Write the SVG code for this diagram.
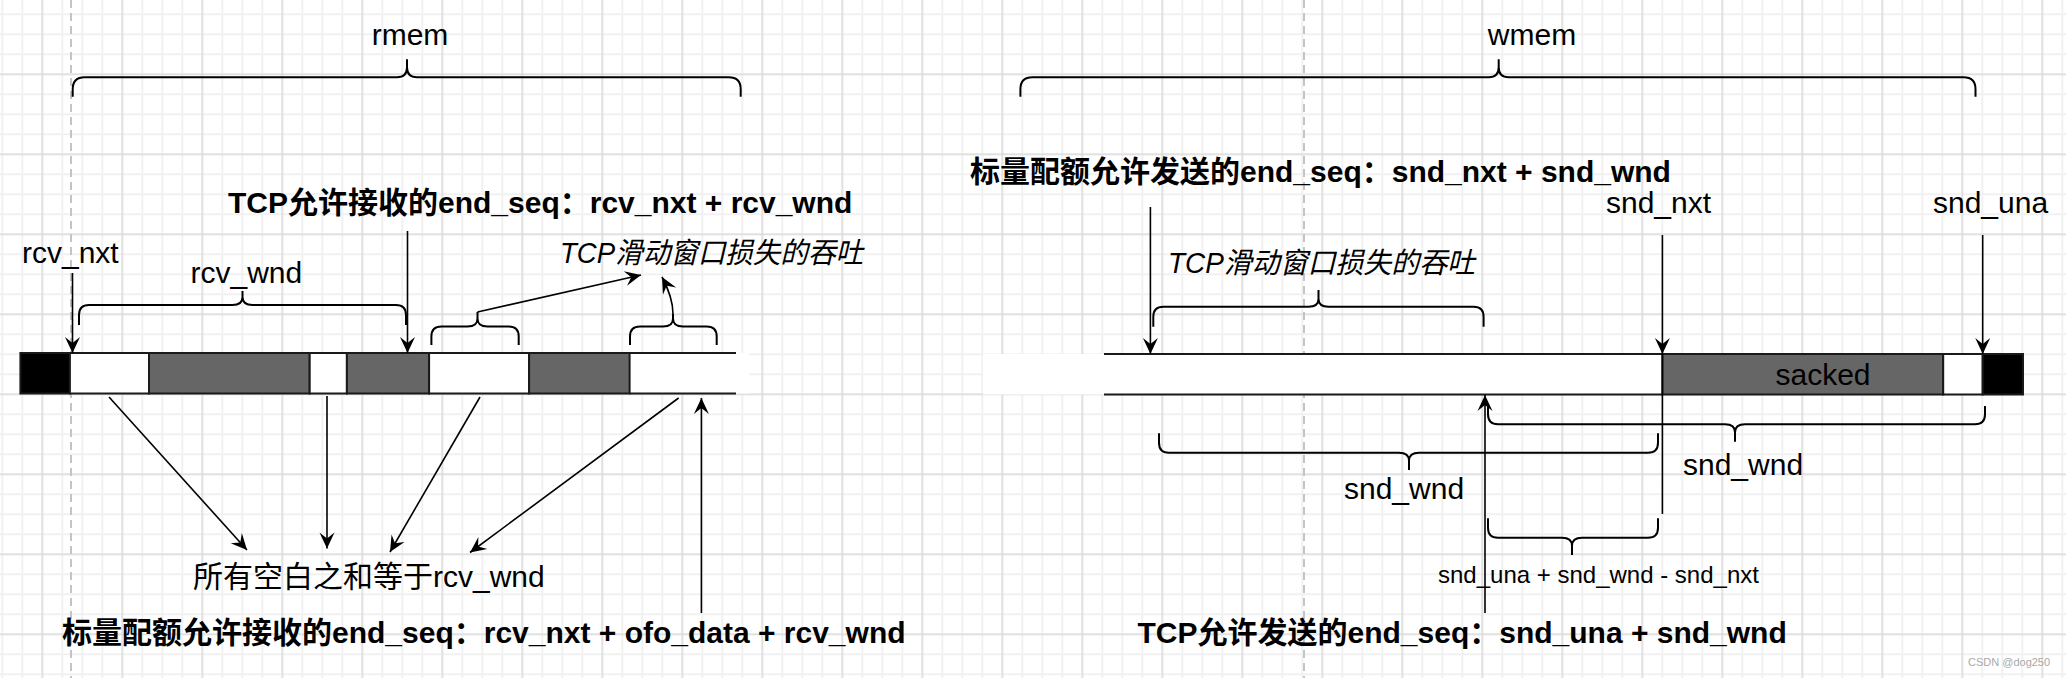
<svg xmlns="http://www.w3.org/2000/svg" width="2066" height="678" viewBox="0 0 2066 678">
<defs>
<pattern id="gMinor" patternUnits="userSpaceOnUse" x="-7.7" y="4.3" width="20" height="20"><path d="M10,0V20M0,10H20" stroke="#f1f1f1" stroke-width="2" fill="none"/></pattern>
<pattern id="gMajor" patternUnits="userSpaceOnUse" x="2.3" y="34.3" width="80" height="80"><path d="M40,0V80M0,40H80" stroke="#d2d2d2" stroke-width="1" fill="none"/></pattern>
<marker id="ah" markerUnits="userSpaceOnUse" markerWidth="18" markerHeight="18" refX="17" refY="9" orient="auto" overflow="visible"><path d="M17,9L1,1.5L7,9L1,16.5Z" fill="#000"/></marker>
<style>
text{font-family:"Liberation Sans","Noto Sans CJK SC",sans-serif;fill:#000}
.lbl{font-size:30px}
.bold{font-size:30px;font-weight:bold}
.ital{font-size:29px;font-style:italic}
.small{font-size:24px}
.brace{fill:none;stroke:#000;stroke-width:2}
.arr{fill:none;stroke:#000;stroke-width:1.6;marker-end:url(#ah)}
.ln{fill:none;stroke:#000;stroke-width:1.6}
.cell{stroke:#1a1a1a;stroke-width:2}
.w{fill:#fff}
.g{fill:#666}
.k{fill:#000}
.edge{stroke:#1a1a1a;stroke-width:2;fill:none}
.dash{stroke:#c4c4c4;stroke-width:2;stroke-dasharray:8 5;fill:none}
</style>
</defs>
<rect width="2066" height="678" fill="#fff"/>
<rect width="2066" height="678" fill="url(#gMinor)"/>
<rect width="2066" height="678" fill="url(#gMajor)"/>
<path class="dash" d="M71,0V678M1304,0V678"/>

<g id="rmem">
<text class="lbl" x="410" y="45" text-anchor="middle">rmem</text>
<path class="brace" d="M72.7,96.7V89.3Q72.7,77.3 84.7,77.3H397Q407,77.3 407,67.3V59.3M407,67.3Q407,77.3 417,77.3H728.7Q740.7,77.3 740.7,89.3V96.7"/>
</g>
<g id="wmem">
<text class="lbl" x="1532" y="45" text-anchor="middle">wmem</text>
<path class="brace" d="M1020.4,96.7V89.3Q1020.4,77.3 1032.4,77.3H1488.7Q1498.7,77.3 1498.7,67.3V59.3M1498.7,67.3Q1498.7,77.3 1508.7,77.3H1963.5Q1975.5,77.3 1975.5,89.3V96.7"/>
</g>

<g id="rcv-end-seq-label"><text class="bold" x="228" y="213">TCP允许接收的end_seq：rcv_nxt + rcv_wnd</text></g>
<g id="rcv-nxt-label"><text class="lbl" x="22" y="263">rcv_nxt</text></g>
<g id="rcv-wnd">
<text class="lbl" x="190.5" y="283">rcv_wnd</text>
<path class="brace" d="M79,325V315Q79,305 89,305H232.5Q242.5,305 242.5,297V291M242.5,297Q242.5,305 252.5,305H396Q406,305 406,315V325"/>
</g>
<g id="rcv-loss-label"><text class="ital" x="560" y="263" textLength="303" lengthAdjust="spacingAndGlyphs">TCP滑动窗口损失的吞吐</text></g>
<g id="rcv-gap-brace-1"><path class="brace" d="M431.4,345V336.5Q431.4,326.5 441.4,326.5H467.5Q477.5,326.5 477.5,318.5V312M477.5,318.5Q477.5,326.5 487.5,326.5H508.7Q518.7,326.5 518.7,336.5V345"/></g>
<g id="rcv-gap-brace-2"><path class="brace" d="M630,345V336.5Q630,326.5 640,326.5H663Q673,326.5 673,318.5V314M673,318.5Q673,326.5 683,326.5H706.7Q716.7,326.5 716.7,336.5V345"/></g>

<g id="rcv-buffer">
<rect class="w" x="629" y="353" width="120" height="40.5"/>
<path class="edge" d="M629.6,353H736M629.6,393.5H736"/>
<rect class="cell k" x="20.4" y="353" width="49.5" height="40.5"/>
<rect class="cell w" x="69.9" y="353" width="79.1" height="40.5"/>
<rect class="cell g" x="149" y="353" width="160.7" height="40.5"/>
<rect class="cell w" x="309.7" y="353" width="37.2" height="40.5"/>
<rect class="cell g" x="346.9" y="353" width="82.2" height="40.5"/>
<rect class="cell w" x="429.1" y="353" width="100" height="40.5"/>
<rect class="cell g" x="529.1" y="353" width="100.5" height="40.5"/>
</g>

<g id="rcv-sum-label"><text class="lbl" x="193" y="587">所有空白之和等于rcv_wnd</text></g>
<g id="rcv-quota-label"><text class="bold" x="62" y="643">标量配额允许接收的end_seq：rcv_nxt + ofo_data + rcv_wnd</text></g>

<g id="snd-quota-label"><text class="bold" x="970" y="182">标量配额允许发送的end_seq：snd_nxt + snd_wnd</text></g>
<g id="snd-nxt-label"><text class="lbl" x="1606" y="213">snd_nxt</text></g>
<g id="snd-una-label"><text class="lbl" x="1933" y="213">snd_una</text></g>
<g id="snd-loss">
<text class="ital" x="1168" y="273" textLength="307" lengthAdjust="spacingAndGlyphs">TCP滑动窗口损失的吞吐</text>
<path class="brace" d="M1153.3,326.7V316.7Q1153.3,306.7 1163.3,306.7H1308.5Q1318.5,306.7 1318.5,298.7V290M1318.5,298.7Q1318.5,306.7 1328.5,306.7H1473.6Q1483.6,306.7 1483.6,316.7V326.7"/>
</g>

<g id="snd-buffer">
<rect class="w" x="983" y="354" width="680" height="40.5"/>
<path class="edge" d="M1104,354H1662.4M1104,394.5H1662.4"/>
<rect class="cell g" x="1662.4" y="354" width="280.8" height="40.5"/>
<rect class="cell w" x="1943.2" y="354" width="39.5" height="40.5"/>
<rect class="cell k" x="1982.7" y="354" width="40.3" height="40.5"/>
<text class="lbl" x="1823" y="385" text-anchor="middle">sacked</text>
</g>

<g id="snd-wnd-right">
<path class="brace" d="M1488,406V414.3Q1488,424.3 1498,424.3H1725Q1735,424.3 1735,432.3V441.7M1735,432.3Q1735,424.3 1745,424.3H1975Q1985,424.3 1985,414.3V406"/>
<text class="lbl" x="1683" y="475">snd_wnd</text>
</g>
<g id="snd-wnd-left">
<path class="brace" d="M1159,433.3V442.7Q1159,452.7 1169,452.7H1399Q1409,452.7 1409,460.7V470M1409,460.7Q1409,452.7 1419,452.7H1648Q1658,452.7 1658,442.7V433.3"/>
<text class="lbl" x="1344" y="499">snd_wnd</text>
</g>
<g id="snd-diff">
<path class="brace" d="M1488,518.3V527.7Q1488,537.7 1498,537.7H1562Q1572,537.7 1572,545.7V555M1572,545.7Q1572,537.7 1582,537.7H1648Q1658,537.7 1658,527.7V518.3"/>
<text class="small" x="1438" y="583">snd_una + snd_wnd - snd_nxt</text>
</g>
<g id="snd-end-seq-label"><text class="bold" x="1137.5" y="643">TCP允许发送的end_seq：snd_una + snd_wnd</text></g>
<g id="watermark"><text x="1968" y="666" style="font-size:11px;fill:#a8a8a8">CSDN @dog250</text></g>

<g id="connectors">
<path class="arr" d="M72.5,273V353"/>
<path class="arr" d="M407.5,231V353"/>
<path class="arr" d="M477.5,312L641,275"/>
<path class="arr" d="M673,314C673,302 670,292 662,277"/>
<path class="arr" d="M109,397L247,550"/>
<path class="arr" d="M327,396V548.5"/>
<path class="arr" d="M480,397L390,552"/>
<path class="arr" d="M678.6,398L470,552.5"/>
<path class="arr" d="M701.4,613V398"/>
<path class="arr" d="M1150.4,207V354"/>
<path class="arr" d="M1662.4,235V354"/>
<path class="ln" d="M1662.4,354V514"/>
<path class="arr" d="M1982.7,235V354"/>
<path class="arr" d="M1485,613V395"/>
</g>
</svg>
